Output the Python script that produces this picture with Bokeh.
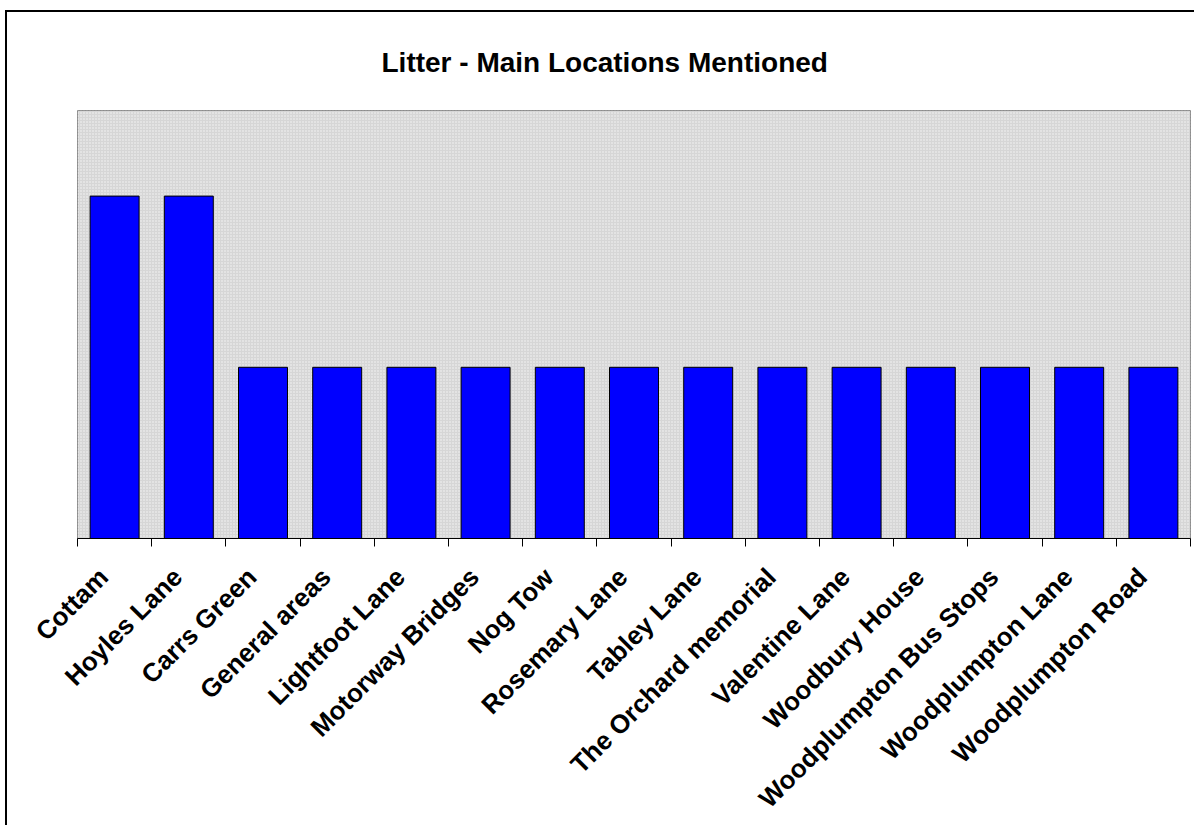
from bokeh.plotting import figure
from bokeh.models import Range1d, LinearAxis, FixedTicker, BoxAnnotation, Title
from bokeh.embed import file_html
from bokeh.resources import INLINE
import math

locations = ["Cottam", "Hoyles Lane", "Carrs Green", "General areas", "Lightfoot Lane",
             "Motorway Bridges", "Nog Tow", "Rosemary Lane", "Tabley Lane",
             "The Orchard memorial", "Valentine Lane", "Woodbury House",
             "Woodplumpton Bus Stops", "Woodplumpton Lane", "Woodplumpton Road"]
mentions = [2, 2, 1, 1, 1, 1, 1, 1, 1, 1, 1, 1, 1, 1, 1]
title_text = "Litter - Main Locations Mentioned"

FONT = "Liberation Sans"

n = len(locations)
centers = [i + 0.5 for i in range(n)]
label_pos = [c - 0.15 for c in centers]   # rotated labels end slightly left of centre
bounds = list(range(n + 1))

p = figure(width=1189, height=815, output_backend="svg", toolbar_location=None,
           x_range=Range1d(0, n), y_range=Range1d(0, 2.5),
           x_axis_location=None, y_axis_location=None,
           min_border_left=70, min_border_right=6, min_border_top=98,
           min_border_bottom=285)
p.xgrid.visible = False
p.ygrid.visible = False
p.background_fill_color = "#d6d6d6"
p.border_fill_color = "white"
p.outline_line_color = "#8c8c8c"
p.outline_line_width = 1
p.styles = {"margin-left": "5px", "margin-top": "10px",
            "border-left": "2px solid black", "border-top": "2px solid black"}

p.title = Title(text=title_text, align="left", text_font=FONT,
                text_font_size="28px", text_font_style="bold", text_color="black",
                standoff=65, offset=304)

# dotted pattern over the plot area
p.add_layout(BoxAnnotation(bottom=0, top=2.5, left=0, right=n,
                           fill_alpha=0, line_alpha=0,
                           hatch_pattern=".", hatch_color="white",
                           hatch_scale=3, hatch_weight=1, hatch_alpha=0.8,
                           level="underlay"))

xaxis = LinearAxis(ticker=FixedTicker(ticks=label_pos, minor_ticks=bounds),
                   major_label_overrides={c: name for c, name in zip(label_pos, locations)},
                   axis_line_color="black", axis_line_width=1,
                   major_tick_line_color=None,
                   minor_tick_line_color="black", minor_tick_out=8, minor_tick_in=0,
                   major_label_orientation=math.pi / 4,
                   major_label_text_font=FONT,
                   major_label_text_font_size="26px",
                   major_label_text_font_style="bold",
                   major_label_text_color="black",
                   major_label_standoff=26)
p.add_layout(xaxis, "below")

p.vbar(x=centers, top=mentions, width=0.66, bottom=0,
       fill_color="#0000ff", line_color="black", line_width=1)

open("out.html", "w").write(file_html(p, INLINE))
